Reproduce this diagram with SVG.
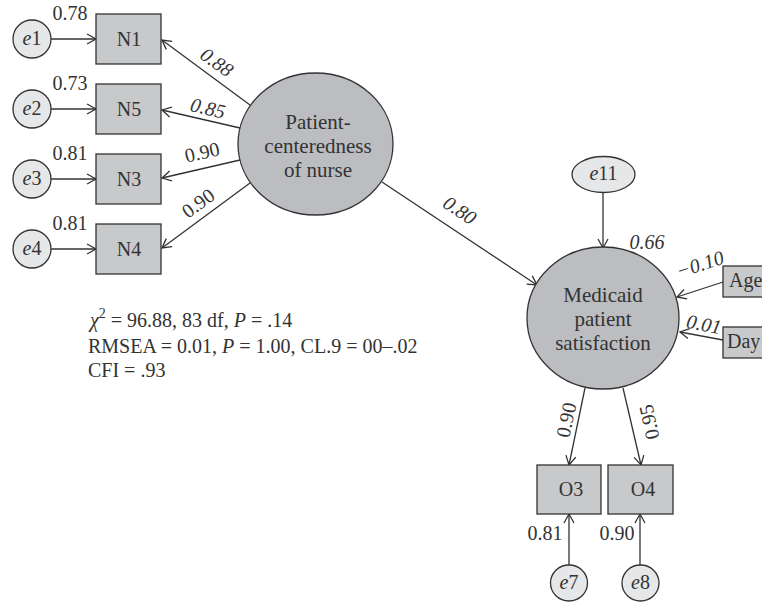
<svg xmlns="http://www.w3.org/2000/svg" width="762" height="602" viewBox="0 0 762 602" font-family="'Liberation Serif', 'DejaVu Serif', serif">
<defs>
<marker id="arr" markerUnits="userSpaceOnUse" markerWidth="12" markerHeight="12" refX="9" refY="5" orient="auto" overflow="visible">
<path d="M0,0 L9,5 L0,10" fill="none" stroke="#333" stroke-width="1.3"/>
</marker>
<style>
text{font-family:'Liberation Serif','DejaVu Serif',serif;fill:#333;}
.box{fill:#c8c9cb;stroke:#333;stroke-width:1.3;}
.err{fill:#e6e7e8;stroke:#333;stroke-width:1.3;}
.lat{fill:#bcbdc0;stroke:#333;stroke-width:1.3;}
.c line{stroke:#333;stroke-width:1.3;marker-end:url(#arr);}
.nt{font-size:20px;text-anchor:middle;}
.et{font-size:20px;text-anchor:middle;}
.lt{font-size:21px;text-anchor:middle;}
.v{font-size:20px;text-anchor:middle;}
.i{font-style:italic;}
.st{font-size:20px;}
</style>
</defs>
<rect width="762" height="602" fill="#fff"/>

<g class="c" id="connectors">
<line x1="51" y1="39" x2="96" y2="39"/>
<line x1="51" y1="109" x2="96" y2="109"/>
<line x1="51" y1="179" x2="96" y2="179"/>
<line x1="51" y1="249" x2="96" y2="249"/>
<line x1="250" y1="105" x2="162" y2="40"/>
<line x1="240" y1="128" x2="162" y2="110"/>
<line x1="240" y1="160" x2="162" y2="178"/>
<line x1="250" y1="183" x2="162" y2="248"/>
<line x1="382" y1="182" x2="537" y2="285"/>
<line x1="603" y1="192" x2="603" y2="248"/>
<line x1="723" y1="282" x2="677" y2="297"/>
<line x1="723" y1="340" x2="680" y2="332"/>
<line x1="585" y1="388" x2="569" y2="465"/>
<line x1="623" y1="388" x2="641" y2="465"/>
<line x1="569" y1="565" x2="569" y2="514"/>
<line x1="640" y1="565" x2="640" y2="514"/>
</g>

<g id="N1"><rect class="box" x="96" y="14" width="65" height="50"/><text class="nt" x="129" y="46">N1</text></g>
<g id="N5"><rect class="box" x="96" y="84" width="65" height="50"/><text class="nt" x="129" y="116">N5</text></g>
<g id="N3"><rect class="box" x="96" y="154" width="65" height="50"/><text class="nt" x="129" y="186">N3</text></g>
<g id="N4"><rect class="box" x="96" y="224" width="65" height="50"/><text class="nt" x="129" y="256">N4</text></g>

<g id="e1"><circle class="err" cx="32" cy="39" r="19"/><text class="et" x="32" y="45"><tspan class="i">e</tspan>1</text></g>
<g id="e2"><circle class="err" cx="32" cy="109" r="19"/><text class="et" x="32" y="115"><tspan class="i">e</tspan>2</text></g>
<g id="e3"><circle class="err" cx="32" cy="179" r="19"/><text class="et" x="32" y="185"><tspan class="i">e</tspan>3</text></g>
<g id="e4"><circle class="err" cx="32" cy="249" r="19"/><text class="et" x="32" y="255"><tspan class="i">e</tspan>4</text></g>

<g id="nurse"><ellipse class="lat" cx="315.5" cy="144" rx="77.5" ry="71"/>
<text class="lt" x="318" y="129">Patient-</text>
<text class="lt" x="318" y="153">centeredness</text>
<text class="lt" x="318" y="177">of nurse</text></g>

<g id="medicaid"><ellipse class="lat" cx="603" cy="318" rx="76" ry="71"/>
<text class="lt" x="603" y="302">Medicaid</text>
<text class="lt" x="603" y="326">patient</text>
<text class="lt" x="603" y="350">satisfaction</text></g>

<g id="e11"><ellipse class="err" cx="603.5" cy="174.5" rx="31.5" ry="18"/><text class="et" x="603.5" y="180"><tspan class="i">e</tspan>11</text></g>

<g id="Age"><rect class="box" x="723" y="266" width="60" height="31"/><text style="font-size:20px" x="729" y="287">Age</text></g>
<g id="Day"><rect class="box" x="723" y="327" width="60" height="31"/><text style="font-size:20px" x="727" y="348">Day</text></g>

<g id="O3"><rect class="box" x="537" y="465" width="64" height="49"/><text class="nt" x="571" y="496">O3</text></g>
<g id="O4"><rect class="box" x="608" y="465" width="65" height="49"/><text class="nt" x="643" y="496">O4</text></g>

<g id="e7"><ellipse class="err" cx="569" cy="583" rx="18.5" ry="18"/><text class="et" x="569" y="589"><tspan class="i">e</tspan>7</text></g>
<g id="e8"><ellipse class="err" cx="640.5" cy="583" rx="18.5" ry="18"/><text class="et" x="640.5" y="589"><tspan class="i">e</tspan>8</text></g>

<g id="labels">
<text class="v" x="70" y="20">0.78</text>
<text class="v" x="70" y="90">0.73</text>
<text class="v" x="70" y="160">0.81</text>
<text class="v" x="70" y="230">0.81</text>
<text class="v i" transform="translate(217,62) rotate(36)" y="7">0.88</text>
<text class="v i" transform="translate(208,108) rotate(13.5)" y="7">0.85</text>
<text class="v" transform="translate(202,152) rotate(-13)" y="7">0.90</text>
<text class="v" transform="translate(198,203) rotate(-36)" y="7">0.90</text>
<text class="v i" transform="translate(460,210) rotate(33.6)" y="7">0.80</text>
<text class="v i" x="647" y="249">0.66</text>
<text class="v i" transform="translate(700,264) rotate(-18)" y="7">−0.10</text>
<text class="v i" transform="translate(704,324) rotate(11)" y="7">0.01</text>
<text class="v" transform="translate(566,420) rotate(-78)" y="7">0.90</text>
<text class="v" transform="translate(649,422) rotate(-102)" y="7">0.95</text>
<text class="v" x="545" y="540">0.81</text>
<text class="v" x="617" y="540">0.90</text>
</g>

<g id="stats">
<text class="st" x="90" y="327"><tspan class="i">χ</tspan><tspan font-size="14" dy="-9">2</tspan><tspan dy="9"> = 96.88, 83 df, </tspan><tspan class="i">P</tspan> = .14</text>
<text class="st" x="88" y="353">RMSEA = 0.01, <tspan class="i">P</tspan> = 1.00, CL.9 = 00–.02</text>
<text class="st" x="88" y="377">CFI = .93</text>
</g>
</svg>
